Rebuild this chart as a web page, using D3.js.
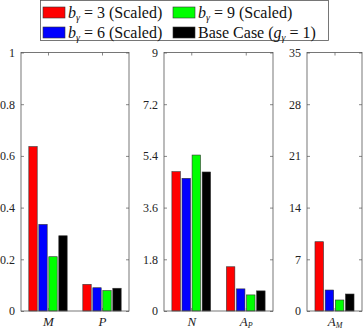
<!DOCTYPE html>
<html>
<head>
<meta charset="utf-8">
<script src="https://cdn.jsdelivr.net/npm/d3@7"></script>
<style>
  body { margin: 0; background: #fff; }
</style>
</head>
<body>
<svg id="chart" width="363" height="330"></svg>
<script>
// data
const seriesColors = ["#ff0000", "#0000ff", "#00ff00", "#000000"];

const cats1 = ["M", "P"];
const b3_1 = [0.636, 0.103];
const b6_1 = [0.335, 0.090];
const b9_1 = [0.210, 0.079];
const base_1 = [0.291, 0.088];
const ticks1 = [0, 0.2, 0.4, 0.6, 0.8, 1];

const cats2 = ["N", "A_P"];
const b3_2 = [4.85, 1.54];
const b6_2 = [4.62, 0.77];
const b9_2 = [5.43, 0.56];
const base_2 = [4.84, 0.70];
const ticks2 = [0, 1.8, 3.6, 5.4, 7.2, 9];

const cats3 = ["A_M"];
const b3_3 = [9.38];
const b6_3 = [2.84];
const b9_3 = [1.49];
const base_3 = [2.30];
const ticks3 = [0, 7, 14, 21, 28, 35];

const serif = "'Liberation Serif', 'Times New Roman', 'DejaVu Serif', serif";

const svg = d3.select("#chart").attr("font-family", serif);
const plotTop = 52.5, plotBottom = 311;

const panels = [
  {cats: cats1, series: [b3_1, b6_1, b9_1, base_1], ticks: ticks1, left: 21, right: 129},
  {cats: cats2, series: [b3_2, b6_2, b9_2, base_2], ticks: ticks2, left: 164, right: 273},
  {cats: cats3, series: [b3_3, b6_3, b9_3, base_3], ticks: ticks3, left: 307, right: 362}
];

// label like A_P -> A with subscript P
function catLabel(sel, c) {
  const parts = c.split("_");
  sel.append("tspan").text(parts[0]);
  if (parts[1]) sel.append("tspan").attr("font-size", "8px").attr("dy", 2).text(parts[1]);
}

panels.forEach(p => {
  const x = d3.scaleLinear().domain([0.5, p.cats.length + 0.5]).range([p.left, p.right]);
  const y = d3.scaleLinear().domain([0, d3.max(p.ticks)]).range([plotBottom, plotTop]);
  const unit = x(1) - x(0);
  const slot = 0.185 * unit, bw = 0.155 * unit;

  const g = svg.append("g");

  // box background
  g.append("rect")
    .attr("x", p.left).attr("y", plotTop)
    .attr("width", p.right - p.left).attr("height", plotBottom - plotTop)
    .attr("fill", "#fff");

  // bars
  p.series.forEach((vals, si) => {
    g.append("g")
      .selectAll("rect")
      .data(vals)
      .join("rect")
        .attr("x", (d, i) => x(i + 1) + (si - 1.5) * slot - bw / 2)
        .attr("y", d => y(d))
        .attr("width", bw)
        .attr("height", d => y(0) - y(d))
        .attr("fill", seriesColors[si])
        .attr("stroke", "#333")
        .attr("stroke-width", 0.6);
  });

  // left axis with inward ticks
  const yAxis = g.append("g")
    .attr("transform", `translate(${p.left},0)`)
    .call(d3.axisLeft(y).tickValues(p.ticks).tickSizeInner(-3).tickSizeOuter(0).tickPadding(6)
      .tickFormat(d => d3.format("")(+d.toFixed(2))));
  yAxis.attr("font-family", serif).attr("font-size", 12);
  yAxis.selectAll("text").attr("fill", "#222");

  // right side ticks
  g.append("g")
    .attr("transform", `translate(${p.right},0)`)
    .call(d3.axisRight(y).tickValues(p.ticks).tickSizeInner(-3).tickSizeOuter(0).tickFormat(""));

  // bottom axis with inward ticks and category labels
  const xAxis = g.append("g")
    .attr("transform", `translate(0,${plotBottom})`)
    .call(d3.axisBottom(x).tickValues(d3.range(1, p.cats.length + 1)).tickSizeInner(-3).tickSizeOuter(0).tickFormat(""));
  xAxis.attr("font-family", serif).attr("font-size", 13);
  xAxis.selectAll(".tick").append("text")
    .attr("y", 15)
    .attr("dy", 0)
    .attr("fill", "#222")
    .attr("text-anchor", "middle")
    .style("font-style", "italic")
    .each(function(d) { catLabel(d3.select(this), p.cats[d - 1]); });

  // top ticks
  g.append("g")
    .attr("transform", `translate(0,${plotTop})`)
    .call(d3.axisTop(x).tickValues(d3.range(1, p.cats.length + 1)).tickSizeInner(-3).tickSizeOuter(0).tickFormat(""));

  g.selectAll(".domain").remove();
  g.selectAll(".tick line").attr("stroke", "#555").attr("stroke-width", 0.7);

  // box outline
  g.append("rect")
    .attr("x", p.left).attr("y", plotTop)
    .attr("width", p.right - p.left).attr("height", plotBottom - plotTop)
    .attr("fill", "none")
    .attr("stroke", "#555")
    .attr("stroke-width", 0.8);
});

// legend
const legend = svg.append("g").attr("font-size", 16);
legend.append("rect")
  .attr("x", 40.5).attr("y", 0.5)
  .attr("width", 288).attr("height", 40)
  .attr("fill", "#fff")
  .attr("stroke", "#555")
  .attr("stroke-width", 0.8);

const legendItems = [
  {c: 0, x: 43, y: 7, txt: "3 (Scaled)"},
  {c: 1, x: 43, y: 27, txt: "6 (Scaled)"},
  {c: 2, x: 173, y: 7, txt: "9 (Scaled)"},
  {c: 3, x: 173, y: 27, txt: null}
];

legendItems.forEach(it => {
  legend.append("rect")
    .attr("x", it.x).attr("y", it.y)
    .attr("width", 22).attr("height", 11)
    .attr("fill", seriesColors[it.c])
    .attr("stroke", "#333")
    .attr("stroke-width", 0.6);
  const t = legend.append("text")
    .attr("x", it.x + 25).attr("y", it.y + 10.5)
    .attr("fill", "#111");
  if (it.txt) {
    t.append("tspan").style("font-style", "italic").text("b");
    t.append("tspan").style("font-style", "italic").attr("font-size", "10px").attr("dy", 3).text("γ");
    t.append("tspan").attr("dy", -3).text(" = " + it.txt);
  } else {
    t.append("tspan").text("Base Case (");
    t.append("tspan").style("font-style", "italic").text("g");
    t.append("tspan").style("font-style", "italic").attr("font-size", "10px").attr("dy", 3).text("γ");
    t.append("tspan").attr("dy", -3).text(" = 1)");
  }
});
</script>
</body>
</html>
